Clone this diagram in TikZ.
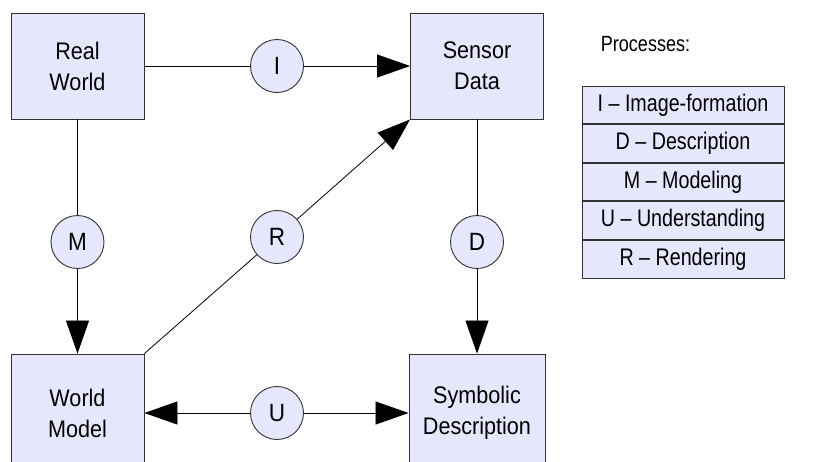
\documentclass[tikz,border=0pt]{standalone}
\usepackage{fontspec}
\setmainfont{Liberation Sans}[FakeStretch=0.9]
\newfontfamily\narrowfont{Liberation Sans}[FakeStretch=0.82]
\usetikzlibrary{arrows.meta,positioning}
\definecolor{boxfill}{RGB}{230,230,252}
\definecolor{edge}{RGB}{50,50,50}
\tikzset{
  x=1pt, y=-1pt,
  stagebox/.style={draw=edge, line width=0.9pt, fill=boxfill, align=center,
    inner sep=0pt, minimum width=133pt, minimum height=106pt,
    font=\fontsize{24}{31}\selectfont},
  proc/.style={circle, draw=edge, line width=0.9pt, fill=boxfill, inner sep=0pt,
    minimum size=53pt, font=\fontsize{25}{28}\selectfont},
  link/.style={draw=black, line width=0.8pt},
  flow/.style={link, -{Triangle[length=33pt,width=23pt]}},
  legendrow/.style={draw=edge, line width=0.9pt, fill=boxfill, inner sep=0pt,
    minimum width=202pt, minimum height=37.7pt,
    font=\narrowfont\fontsize{24}{28}\selectfont},
}
\begin{document}
\begin{tikzpicture}
\useasboundingbox (0,0) rectangle (819,461);
\clip (0,0) rectangle (819,461);

% the four stages
\node[stagebox] (rw) at (77.5,66) {Real\\World};
\node[stagebox] (sd) at (477,66) {Sensor\\Data};
\node[stagebox, minimum height=118pt] (wm) at (77.5,413) {World\\Model};
\node[stagebox, minimum height=118pt, minimum width=136pt] (sym) at (477,413) {Symbolic\\Description};

% the processes between them
\node[proc] (I) at (277,66) {I};
\node[proc] (M) at (77.5,242) {M};
\node[proc] (D) at (477,242) {D};
\node[proc] (U) at (277,413) {U};
\node[proc] (R) at (277,237) {R};

% connectors
\draw[link] (rw) -- (I);
\draw[flow] (I) -- (sd);
\draw[link] (rw) -- (M);
\draw[flow] (M) -- (wm);
\draw[link] (sd) -- (D);
\draw[flow] (D) -- (sym);
\draw[flow] (U) -- (wm);
\draw[flow] (U) -- (sym);
\draw[link] (wm.north east) -- (R);
\draw[flow] (R) -- (sd.south west);

% legend
\node[anchor=base, font=\narrowfont\fontsize{22}{26}\selectfont] (title) at (645.5,51) {Processes:};
\node[legendrow] (l1) at (683,104.85) {I – Image-formation};
\node[legendrow, below=0pt of l1] (l2) {D – Description};
\node[legendrow, below=0pt of l2] (l3) {M – Modeling};
\node[legendrow, below=0pt of l3] (l4) {U – Understanding};
\node[legendrow, below=0pt of l4] (l5) {R – Rendering};
\end{tikzpicture}
\end{document}
